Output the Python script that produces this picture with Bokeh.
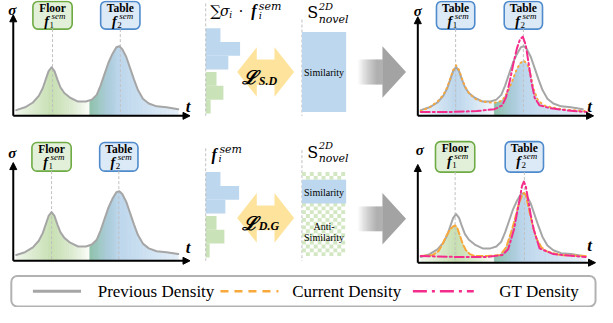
import numpy as np
from bokeh.plotting import figure
from bokeh.models import Range1d, BoxAnnotation, Arrow, NormalHead
from bokeh.embed import file_html
from bokeh.resources import INLINE
from bokeh.core.properties import value

# ---------------- data (t offset along axis, sigma height) ----------------
prev_t = [3, 12, 20, 26, 30, 33, 36, 39, 42, 45, 48, 52, 58, 66, 74, 80, 85, 89, 93, 97,
          101, 105, 108, 111, 115, 119, 123, 127, 132, 138, 146, 156, 168]
prev_s = [6, 9, 14, 21, 29, 38, 47, 51, 47, 38, 30, 24, 19, 15, 15, 17, 22, 32, 44, 56,
          65, 72, 73, 70, 62, 50, 38, 27, 18, 13, 10, 9, 7]

cur_top_t = [3, 12, 20, 26, 30, 33, 36, 39, 42, 45, 48, 52, 58, 66, 74, 80, 86, 92, 96, 100,
             104, 108, 112, 115, 118, 122, 128, 136, 146, 158, 170]
cur_top_s = [5, 9, 15, 22, 30, 39, 48, 53, 48, 39, 31, 24, 18, 15, 14, 14, 16, 26, 36, 47,
             55, 58, 53, 42, 28, 17, 11, 9, 7, 6, 5]

gt_top_t = [3, 30, 60, 78, 86, 90, 94, 98, 101, 104, 107, 110, 113, 116, 119, 124, 135, 150, 172]
gt_top_s = [4, 4, 5, 7, 11, 20, 38, 58, 71, 80, 83, 74, 54, 34, 19, 11, 8, 6, 4]

cur_bot_t = [3, 15, 21, 25, 29, 33, 36, 38, 40, 43, 46, 49, 53, 58, 70, 84, 90, 96, 100, 103,
             106, 108, 110, 114, 118, 121, 126, 131, 145, 171]
cur_bot_s = [7, 8, 12, 19, 28, 35, 38, 39, 37, 28, 19, 13, 9, 7, 7, 8, 16, 35, 50, 62,
             70, 73, 71, 52, 35, 25, 16, 12, 8, 7]

gt_bot_t = [3, 40, 70, 86, 92, 98, 101, 104, 106, 108, 110, 112, 115, 118, 124, 138, 171]
gt_bot_s = [7, 6, 6, 8, 14, 35, 52, 68, 80, 85, 80, 68, 50, 35, 15, 9, 6]

# weighted semantic feature bars (top row) and raw semantic features (bottom row)
sem_top_blue = [15, 35, 23]
sem_top_green = [11, 18, 5]
sem_bot_blue = [15, 34, 20]
sem_bot_green = [11, 19, 4]

legend_labels = ["Previous Density", "Current Density", "GT Density"]

# ---------------- styles ----------------
GRAY = "#a6a6a6"
ORANGE = "#f9a83c"
PINK = "#f42c8c"
BLUE = "#bdd7ee"
GREEN = "#c9e2b8"
green_stops = [(3, "#f1f7ec"), (39, "#c6dfb1"), (60, "#dcebd0"), (78, "#fbfdf9")]
blue_left_stops = [(3, "#edf4fa"), (39, "#bcd6ec"), (60, "#d6e6f4"), (78, "#f3f8fc")]
teal_stops = [(78, "#8cc1a8"), (95, "#a8cad6"), (108, "#bcd6ec"), (140, "#d0e2f2"), (170, "#e6f0f9")]

p = figure(width=597, height=307, x_range=Range1d(4, 612), y_range=Range1d(322, 0),
           output_backend="svg", toolbar_location=None, min_border=0,
           x_axis_type=None, y_axis_type=None)
p.grid.visible = False
p.outline_line_color = None
p.background_fill_color = "white"
p.border_fill_color = "white"


def mix(c1, c2, f):
    f = max(0.0, min(1.0, f))
    a = [int(c1[i:i + 2], 16) for i in (1, 3, 5)]
    b = [int(c2[i:i + 2], 16) for i in (1, 3, 5)]
    return "#%02x%02x%02x" % tuple(int(round(a[k] + (b[k] - a[k]) * f)) for k in range(3))


def stop_color(stops, t):
    for (t0, c0), (t1, c1) in zip(stops, stops[1:]):
        if t <= t1:
            return mix(c0, c1, (t - t0) / (t1 - t0))
    return stops[-1][1]


def txt(x, y, s, size, style="normal", font="Liberation Serif", align="center", color="black"):
    p.text(x=[x], y=[y], text=[s], text_font=value(font), text_font_size=f"{size}px",
           text_font_style=style, text_align=align, text_baseline="middle", text_color=color)


def fsem(x, y, sub, size=14):
    txt(x, y, "f", size, "bold italic")
    txt(x + 5, y - 6, "sem", round(size * 0.64), "italic", align="left")
    txt(x + 3, y + 4, sub, round(size * 0.64), "normal", align="left")


def fill_panel(ox, oy, ct, cs, left_stops):
    xs, ys, cols = [], [], []
    t = float(ct[0])
    while t < ct[-1]:
        t1 = min(t + 1.0, ct[-1])
        h0 = np.interp(t, ct, cs)
        h1 = np.interp(t1, ct, cs)
        tm = (t + t1) / 2
        col = stop_color(left_stops if tm < 78 else teal_stops, tm)
        xs.append([ox + t, ox + t, ox + t1, ox + t1])
        ys.append([oy, oy - h0, oy - h1, oy])
        cols.append(col)
        t = t1
    p.patches(xs, ys, fill_color=cols, line_color=cols, line_width=0.7)


def curve(ox, oy, ct, cs, color, dash="solid", width=2):
    p.line([ox + t for t in ct], [oy - s for s in cs], line_color=color, line_width=width,
           line_dash=dash, line_cap="round", line_join="round")


BOXC = {"g": ("#e3f0d9", "#6fab45"), "b": ("#dce9f6", "#4f8bcc")}

panels = [
    dict(ox=17, oy=121, top=15, tip=197, sig=(16, 10), tl=(195, 111), bt=1, bb=30,
         boxes=[("Floor", "1", 37, 77, "g"), ("Table", "2", 106, 146, "b")],
         fill=(prev_t, prev_s), lstops=green_stops, lines=[]),
    dict(ox=17, oy=273, top=170, tip=197, sig=(16, 160), tl=(195, 259), bt=149, bb=179,
         boxes=[("Floor", "1", 36, 76, "g"), ("Table", "2", 105, 144, "b")],
         fill=(prev_t, prev_s), lstops=green_stops, lines=[]),
    dict(ox=429, oy=121, top=17, tip=608, sig=(429, 11), tl=(604, 111), bt=1, bb=30,
         boxes=[("Table", "1", 448, 487, "b"), ("Table", "2", 517, 556, "b")],
         fill=(cur_top_t, cur_top_s), lstops=blue_left_stops,
         lines=[(cur_top_t, cur_top_s, ORANGE, "1 4", 2), (gt_top_t, gt_top_s, PINK, "9 3 2 3", 2)]),
    dict(ox=429, oy=275, top=172, tip=610, sig=(431, 157), tl=(604, 257), bt=148, bb=180,
         boxes=[("Floor", "1", 447, 487, "g"), ("Table", "2", 518, 557, "b")],
         fill=(cur_bot_t, cur_bot_s), lstops=green_stops,
         lines=[(cur_bot_t, cur_bot_s, ORANGE, "6 3", 2), (gt_bot_t, gt_bot_s, PINK, "9 3 2 3", 2)]),
]

for pn in panels:
    ox, oy = pn["ox"], pn["oy"]
    fill_panel(ox, oy, pn["fill"][0], pn["fill"][1], pn["lstops"])
    for name, sub, l, r, c in pn["boxes"]:
        fc, lc = BOXC[c]
        p.add_layout(BoxAnnotation(left=l, right=r, top=pn["bt"], bottom=pn["bb"], border_radius=5,
                                   fill_color=fc, fill_alpha=1, line_color=lc, line_width=1.6,
                                   line_alpha=1, level="underlay"))
        cx = (l + r) / 2
        txt(cx, pn["bt"] + 7, name, 11.5, "bold")
        fsem(cx - 6, pn["bt"] + 21, sub)
        p.line([cx, cx], [pn["bb"], oy], line_color="#c0c0c0", line_width=1, line_dash="3 2")
    curve(ox, oy, prev_t, prev_s, GRAY, width=2)
    for ct, cs, col, dash, w in pn["lines"]:
        curve(ox, oy, ct, cs, col, dash, w)
    p.add_layout(Arrow(end=NormalHead(size=7, fill_color="black", line_color="black"),
                       x_start=ox, y_start=oy, x_end=ox, y_end=pn["top"], line_width=2))
    p.add_layout(Arrow(end=NormalHead(size=7, fill_color="black", line_color="black"),
                       x_start=ox, y_start=oy, x_end=pn["tip"], y_end=oy, line_width=2))
    txt(pn["sig"][0], pn["sig"][1], "σ", 15, "bold italic")
    txt(pn["tl"][0], pn["tl"][1], "t", 17, "bold italic")

# ---------------- middle column ----------------
row_h = 14.5
for off, blue, green in [(0, sem_top_blue, sem_top_green), (151, sem_bot_blue, sem_bot_green)]:
    yb = [29 + off + row_h * (i + 0.5) for i in range(3)]
    yg = [75 + off + row_h * (i + 0.5) for i in range(3)]
    p.hbar(y=yb, left=213, right=[213 + v for v in blue], height=row_h, fill_color=BLUE, line_color=None)
    p.hbar(y=yg, left=213, right=[213 + v for v in green], height=row_h, fill_color=GREEN, line_color=None)

# dashed guide lines
for x0, y0, y1 in [(213, 3, 121), (311, 20, 121), (213, 155, 273), (311, 157, 273)]:
    p.line([x0, x0], [y0, y1], line_color="#c0c0c0", line_width=1, line_dash="3 2")

# formulas
txt(223, 11, "∑", 15, font="DejaVu Serif")
txt(232.5, 11, "σ", 14, "italic", font="DejaVu Serif")
txt(237, 15, "i", 9, "italic", font="DejaVu Serif", align="left")
txt(249, 11, "·", 14, font="DejaVu Serif")
txt(262, 11, "f", 16, "bold italic")
txt(267, 6, "sem", 11, "italic", font="DejaVu Serif", align="left")
txt(267, 16, "i", 10, "italic", font="DejaVu Serif", align="left")

txt(221.5, 162, "f", 16, "bold italic")
txt(227, 156, "sem", 11, "italic", font="DejaVu Serif", align="left")
txt(226, 166, "i", 10, "italic", font="DejaVu Serif", align="left")

for sy in (13, 159):
    txt(322, sy, "S", 16, font="DejaVu Serif")
    txt(328, sy - 7, "2D", 10, "italic", font="DejaVu Serif", align="left")
    txt(328, sy + 7, "novel", 11, "italic", font="DejaVu Serif", align="left")

# S_novel boxes
p.quad(left=311, right=356, top=33, bottom=117, fill_color=BLUE, line_color=None)
txt(333.5, 75, "Similarity", 10)

cx_, cy_ = [], []
for i in range(11):
    for j in range(22):
        if (i + j) % 2 == 0:
            cx_.append(313 + 4 * i)
            cy_.append(182 + 4 * j)
p.rect(x=cx_, y=cy_, width=4, height=4, fill_color="#d3e7c3", line_color=None)
p.quad(left=311, right=356, top=188, bottom=213, fill_color=BLUE, line_color=None)
txt(333.5, 201, "Similarity", 10)
txt(333.5, 237, "Anti-", 10)
txt(333.5, 249, "Similarity", 10)

# yellow double arrows
adx = [-29, -9, -9, 9, 9, 29, 9, 9, -9, -9]
ady = [0, -26, -13, -13, -26, 0, 26, 13, 13, 26]
for cy, sub in [(75, "S.D"), (228, "D.G")]:
    p.patch([274 + d for d in adx], [cy + d for d in ady], fill_color="#fde39c", line_color=None)
    txt(258, cy + 5, "ℒ", 19, "bold italic", font="DejaVu Serif")
    txt(267, cy + 9, sub, 12, "bold italic", align="left")

# gray arrows with gradient body
for cy in (75, 229):
    gl = [367 + i for i in range(26)]
    gc = [mix("#ffffff", "#a3a3a3", i / 20) for i in range(26)]
    p.quad(left=gl, right=[g + 1.2 for g in gl], top=cy - 13, bottom=cy + 13, fill_color=gc, line_color=None)
    p.patch([393, 417, 393], [cy - 27, cy, cy + 27], fill_color="#a3a3a3", line_color=None)

# ---------------- legend ----------------
p.add_layout(BoxAnnotation(left=15, right=610, top=289, bottom=321, border_radius=6,
                           fill_alpha=0, line_color="black", line_width=2))
p.line([37, 86], [305, 305], line_color=GRAY, line_width=3)
p.line([228, 287], [305, 305], line_color=ORANGE, line_width=2.5, line_dash="8 6")
p.line([424, 486], [305, 305], line_color=PINK, line_width=2.5, line_dash="14 5 3 5")
for x0, lab in zip([103, 301, 512], legend_labels):
    txt(x0, 305, lab, 17, align="left")

open("out.html", "w").write(file_html(p, INLINE))
